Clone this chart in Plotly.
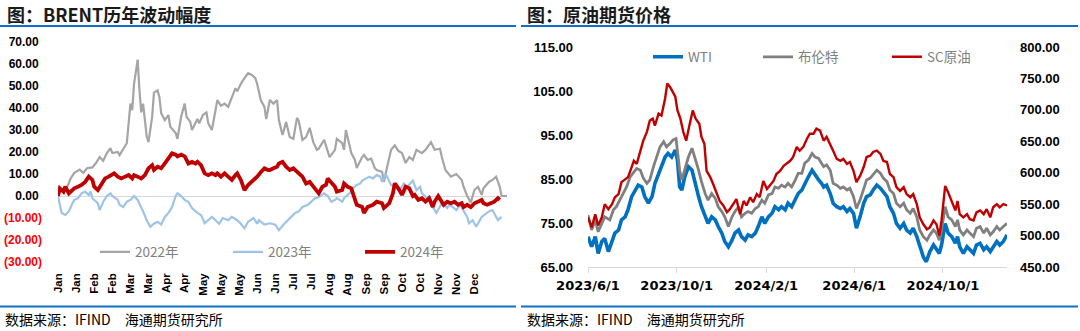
import pandas as pd
import plotly.graph_objects as go

W, H = 1080, 331

# ---------------- Left panel: Brent yearly change (trading-day index) ----------------
month_labels = ["Jan", "Jan", "Feb", "Feb", "Mar", "Mar", "Apr", "Apr", "May", "May", "May", "Jun",
                "Jun", "Jul", "Jul", "Aug", "Aug", "Sep", "Sep", "Oct", "Oct", "Nov", "Nov", "Dec"]
month_tick_days = list(range(0, 240, 10))

days_2022 = [4, 7, 9, 12, 14, 16, 19, 21, 23, 25, 27, 29, 30, 33, 34, 36, 38, 40, 41, 42,
             44, 45, 46, 47, 49, 50, 52, 53, 55, 56, 57, 59, 61, 62, 65, 66, 68, 70, 71, 73,
             74, 77, 78, 80, 82, 83, 85, 87, 88, 90, 92, 94, 96, 98, 99, 101, 103, 105, 107, 109,
             110, 112, 114, 115, 117, 119, 121, 122, 124, 126, 128, 130, 132, 133, 135, 137, 139, 141, 143, 144,
             147, 150, 153, 154, 157, 158, 159, 162, 164, 165, 168, 169, 171, 173, 175, 176, 179, 180, 182, 184,
             186, 188, 190, 192, 194, 196, 198, 201, 203, 206, 208, 211, 212, 214, 217, 220, 223, 224, 226, 228,
             230, 232, 234, 235, 238, 240, 242, 244, 245, 248]
chg_2022 = [2, 8, 10.5, 12, 10.5, 12.6, 13, 15, 17.7, 16, 19.5, 21.8, 19.5, 20, 18.6, 21, 24, 42, 39, 51,
            62, 48, 38, 42, 27, 24.5, 36, 47, 48, 45, 37.6, 34.5, 36.8, 31.5, 28.6, 26, 36, 42, 36, 33.8,
            30, 35, 33, 36.8, 38, 33, 30, 39, 43.6, 41, 42, 40.5, 45, 49, 47.6, 51, 53.6, 55.8, 55, 53.6,
            51, 43.6, 40.5, 35, 43.6, 42, 43.6, 34.5, 27.7, 33.6, 26.8, 26, 35.5, 34, 25.5, 26.8, 31, 24.5, 21, 21.5,
            25.5, 17.7, 21, 26, 24, 21, 30, 19.5, 16.4, 12.7, 17.7, 18.6, 16.4, 17, 12.7, 11.8, 11, 6.4, 14, 21,
            23, 20.5, 19.5, 15, 17.7, 16.4, 21, 19.5, 21, 24.5, 21, 21.5, 17.7, 11.8, 8.8, 10, 7.3, 4.2, 0, -3,
            2.7, 4.2, 0.5, 3.5, 6.4, 7.3, 8.8, 4.2, 0, 0]

days_2023 = [0, 2, 4, 6, 8, 9, 11, 13, 15, 17, 18, 19, 22, 23, 25, 27, 29, 30, 33, 34,
             36, 38, 40, 42, 44, 46, 47, 49, 51, 53, 55, 57, 59, 61, 63, 65, 66, 68, 70, 72,
             74, 77, 79, 81, 83, 85, 87, 89, 91, 94, 96, 99, 101, 103, 105, 108, 110, 111, 114, 117,
             120, 122, 125, 128, 131, 133, 135, 138, 140, 142, 143, 146, 147, 149, 151, 153, 154, 157, 158, 161,
             163, 165, 167, 168, 170, 172, 174, 176, 178, 179, 181, 183, 184, 186, 188, 190, 191, 193, 195, 196,
             198, 200, 201, 204, 205, 207, 209, 211, 212, 215, 216, 218, 220, 222, 223, 226, 227, 229, 231, 233,
             234, 237, 238, 240, 242, 243, 245]
chg_2023 = [0, -7.7, -8.6, -7, -3.3, -1.8, -1, 1.2, 2, 0.5, 2, -1, -3.3, -6.4, -2.6, 0, 1.2, 0, -1.8, -4,
            -5, -2.6, -1.8, 0, -1.8, -5, -7, -11, -14, -12.6, -11.7, -13, -9.5, -7.7, -5, 0, 1.2, 0, -1.8, -2.6,
            -5.5, -7.7, -8.6, -12.4, -11, -9.5, -11, -12.6, -10, -11, -9.5, -11, -12.6, -14.7, -11.7, -10, -12.6, -11, -13, -12.4,
            -13, -15.5, -12.6, -10, -7.7, -7, -5, -4, -2.6, -1, -1, 0.5, 1.2, 0, -2.6, -1.8, -1, -2.6, -1, 1.2,
            3.5, 5, 5.7, 7, 8, 8.8, 8, 9.5, 8.8, 6.4, 10, 6.4, 5, 4.2, 2.7, 4.2, 5.7, 4.2, 6.4, 7,
            2.7, 4.2, 1.2, -1, 0, -5, -7.7, -5, -3.3, -5.5, -4, -5, -6.4, -4, -5.5, -9.5, -12.4, -11, -14, -11,
            -9.5, -7.7, -7, -6.4, -9.5, -11, -9.5]

days_2024 = [0, 1, 3, 4, 6, 8, 9, 11, 13, 15, 17, 19, 20, 22, 24, 26, 28, 30, 31, 33,
             35, 37, 39, 41, 42, 44, 46, 48, 50, 52, 53, 55, 57, 59, 61, 63, 65, 66, 68, 70,
             72, 74, 76, 77, 79, 81, 83, 85, 87, 88, 90, 92, 94, 96, 98, 99, 101, 103, 105, 107,
             109, 110, 112, 114, 116, 117, 119, 121, 122, 124, 126, 128, 130, 132, 133, 135, 137, 139, 141, 143,
             144, 146, 148, 149, 151, 153, 154, 157, 158, 160, 162, 164, 165, 168, 169, 171, 174, 176, 179, 180,
             183, 185, 186, 188, 190, 192, 194, 196, 197, 199, 201, 203, 205, 207, 208, 210, 212, 213, 215, 217,
             219, 221, 223, 224, 226, 228, 230, 232, 234, 235, 237, 239, 241, 243, 244]
chg_2024 = [0, 3.5, 2, 4.2, 1.2, 2.7, 3.5, 4.2, 5, 6.4, 8.8, 7.3, 4.2, 2.7, 5.7, 8, 8.8, 9.5, 10.3, 8.8,
            8, 8.8, 9.5, 8, 9.5, 8.8, 8, 9.5, 12.6, 14, 11.8, 13.3, 12.6, 14.8, 17.1, 19.4, 18.8, 18, 18.8, 18,
            14.8, 15.5, 14.8, 15.5, 14, 10.3, 9.5, 10.3, 9.5, 10.3, 8.8, 10.3, 8.8, 7.3, 9.5, 10.3, 7.3, 2.7, 5, 6.4,
            8, 8.8, 10.8, 12.6, 11.8, 11.8, 12.6, 13.3, 14.8, 15.5, 13.3, 11.8, 12.6, 10.8, 10.3, 8.8, 5.7, 6.4, 4.2, 2,
            1.2, 4.2, 5, 8, 6.4, 4.2, 2, 2.7, 5.7, 4.2, 3.5, -1, -4, -5, -7.7, -5, -4, -2.6, -3.3, -5.5,
            -3.3, 1.2, 5.7, 3.5, 0.5, 4.2, 3.5, 0, 0.5, -1.8, -1, -2.6, -1, -5, -2.6, 0, -3.3, -4, -2.6, -3.3,
            -2.6, -4, -3.3, -5, -4, -5, -3.3, -2.6, -1.8, -3.3, -4, -3.3, -2.6, -1, -1.8]

left_ticks = [-30, -20, -10, 0, 10, 20, 30, 40, 50, 60, 70]

# ---------------- Right panel: crude futures (days after 2023-06-01) ----------------
price_start = "2023-06-01"
date_ticks = ["2023-06-01", "2023-10-01", "2024-02-01", "2024-06-01", "2024-10-01"]
date_tick_labels = ["2023/6/1", "2023/10/1", "2024/2/1", "2024/6/1", "2024/10/1"]

wti_days = [0, 5, 10, 14, 19, 23, 28, 33, 37, 42, 46, 51, 55, 60, 65, 69, 74, 78, 83, 88,
            92, 97, 101, 106, 110, 115, 120, 123, 126, 129, 133, 138, 143, 147, 152, 156, 161, 165, 170, 175,
            179, 184, 188, 193, 198, 202, 207, 211, 216, 220, 225, 230, 234, 239, 243, 248, 253, 257, 262, 266,
            271, 275, 280, 285, 289, 294, 298, 303, 308, 312, 317, 321, 324, 328, 333, 337, 342, 347, 351, 356,
            360, 365, 369, 374, 379, 383, 388, 392, 397, 402, 406, 411, 415, 420, 424, 429, 434, 438, 443, 447,
            452, 456, 461, 465, 470, 475, 479, 483, 486, 491, 495, 500, 505, 508, 511, 516, 521, 525, 530, 534,
            539, 544, 548, 553, 557, 562, 566, 571, 576]
wti = [71.9, 69.6, 71.9, 68.1, 70.8, 71.5, 68.5, 71.1, 72.7, 73.4, 75.7, 76.4, 78, 81, 82.5, 83.6, 83.2, 81, 79.5, 81,
       84, 86.3, 87.8, 90, 90.8, 90, 91.6, 89.3, 83.2, 82.5, 85.5, 87.8, 87, 84, 81, 78.7, 76.4, 74.9, 76.4, 75.7,
       74.2, 72.7, 70.8, 69.6, 71.1, 72.7, 73.4, 71.9, 71.1, 72.3, 71.9, 72.7, 74.2, 76.4, 74.9, 76.4, 77.2, 78.7, 78, 78.7,
       78, 79.5, 78.7, 80.2, 81.7, 82.5, 84, 85.5, 87, 85.9, 84.8, 84, 83.2, 83.6, 81.7, 79.5, 78.7, 78.3, 78.7, 77.6,
       78.3, 77.2, 73.8, 76.4, 79.5, 81, 81.4, 82.5, 83.6, 82.9, 82.1, 81, 78.7, 77.2, 74.9, 73.8, 74.9, 73.4, 72.7, 73.8,
       71.9, 69.6, 67.3, 66.2, 68.5, 70, 68.9, 68.1, 70, 74.9, 72.7, 71.9, 70.4, 71.9, 69.6, 68.1, 69.6, 68.9, 68.1, 70,
       70.4, 68.9, 69.6, 68.5, 69.6, 70.8, 70, 70.8, 72.3]

brent_days = [0, 5, 10, 14, 19, 23, 30, 35, 39, 46, 53, 58, 62, 67, 72, 76, 81, 85, 90, 94,
              99, 104, 108, 113, 117, 121, 126, 129, 133, 138, 143, 147, 152, 156, 161, 165, 170, 175, 179, 184,
              188, 193, 198, 202, 207, 211, 216, 220, 225, 230, 234, 239, 243, 248, 253, 257, 262, 266, 271, 275,
              280, 285, 289, 294, 298, 303, 308, 312, 317, 321, 324, 328, 333, 337, 342, 347, 351, 356, 360, 365,
              369, 374, 379, 383, 388, 392, 397, 402, 406, 411, 415, 420, 424, 429, 434, 438, 443, 447, 452, 456,
              461, 466, 470, 475, 479, 483, 486, 491, 495, 500, 505, 508, 511, 516, 521, 525, 530, 534, 539, 544,
              548, 553, 557, 562, 566, 571, 576]
brent = [76.8, 73.4, 75.7, 73, 74.9, 76.4, 75.7, 78, 78.7, 81, 83.2, 85.5, 86.3, 87.4, 87, 85.2, 84, 84.8, 87.8, 90,
         92.3, 93.5, 92.3, 93.1, 93.9, 94.2, 87, 84.8, 87, 90, 92, 90, 87, 84.4, 81.7, 80.2, 81.7, 80.6, 78.7, 77.6,
         76.4, 74.2, 76.4, 77.6, 78.7, 76.4, 77.2, 77.6, 77.2, 78.3, 78.7, 80.2, 79.5, 81.4, 81.7, 83.2, 82.9, 83.6, 83.2, 84,
         83.2, 84.8, 86.3, 86.3, 88.6, 89.3, 90.8, 90, 89.7, 88.6, 87.8, 88.2, 87, 84, 83.6, 82.9, 83.2, 82.5, 82.9, 81,
         78.3, 80.2, 82.5, 84.8, 85.2, 85.9, 87, 86.3, 85.2, 84.4, 82.5, 81.7, 79.5, 78.7, 79.5, 78, 77.2, 78.3, 76.4, 73.4,
         71.9, 71.1, 72.3, 73.4, 72.7, 71.1, 73.4, 78.7, 76.4, 75.7, 74.2, 75.7, 73.4, 72.3, 73.4, 72.7, 71.9, 73.8, 74.2, 72.7,
         73.8, 72.3, 73, 74.2, 73.4, 74.2, 74.9]

sc_days = [0, 5, 10, 14, 19, 23, 28, 33, 37, 42, 46, 51, 55, 60, 63, 67, 72, 76, 81, 85,
           89, 92, 97, 101, 106, 109, 113, 116, 120, 123, 127, 131, 135, 139, 144, 148, 153, 156, 160, 163,
           168, 172, 177, 181, 186, 191, 195, 200, 204, 209, 214, 218, 223, 227, 232, 236, 241, 246, 250, 255,
           259, 264, 269, 273, 278, 282, 287, 291, 296, 301, 305, 310, 314, 319, 324, 328, 333, 337, 342, 347,
           351, 356, 360, 365, 369, 374, 379, 383, 388, 392, 397, 402, 406, 411, 415, 420, 424, 429, 434, 438,
           443, 447, 452, 456, 461, 466, 470, 475, 479, 483, 486, 491, 495, 500, 505, 508, 511, 516, 521, 525,
           530, 534, 539, 544, 548, 553, 557, 562, 566, 571, 576]
sc = [529, 513, 534, 516, 529, 550, 542, 550, 561, 566, 585, 590, 593, 609, 619, 614, 635, 651, 665, 683,
      686, 675, 694, 691, 718, 742, 736, 729, 721, 699, 686, 665, 651, 673, 699, 686, 678, 657, 646, 603,
      593, 582, 566, 555, 548, 537, 542, 550, 558, 534, 555, 548, 561, 553, 566, 561, 587, 574, 579, 587,
      598, 603, 611, 614, 619, 625, 641, 635, 641, 654, 662, 662, 670, 667, 651, 657, 646, 635, 622, 619,
      622, 614, 617, 603, 585, 595, 609, 625, 627, 633, 635, 630, 619, 617, 598, 593, 577, 571, 577, 566,
      561, 566, 550, 529, 518, 510, 513, 524, 518, 500, 524, 579, 569, 555, 540, 555, 534, 529, 534, 526,
      524, 537, 540, 534, 542, 529, 545, 550, 545, 550, 548]

usd_ticks = [65, 75, 85, 95, 105, 115]
cny_ticks = [450, 500, 550, 600, 650, 700, 750, 800]


def to_dates(days):
    return pd.Timestamp(price_start) + pd.to_timedelta(days, unit="D")


def px_x(v):
    return v / W


def px_y(v):
    return 1 - v / H


LABEL_FONT = "Liberation Sans"
CJK_FONT = "Noto Sans CJK SC"

fig = go.Figure()

# left panel lines
fig.add_trace(go.Scatter(x=days_2022, y=chg_2022, name="2022年", mode="lines",
                         line=dict(color="#A5A5A5", width=2.2), xaxis="x", yaxis="y", legend="legend"))
fig.add_trace(go.Scatter(x=days_2023, y=chg_2023, name="2023年", mode="lines",
                         line=dict(color="#9DC3E6", width=2.2), xaxis="x", yaxis="y", legend="legend2"))
fig.add_trace(go.Scatter(x=days_2024, y=chg_2024, name="2024年", mode="lines",
                         line=dict(color="#C00000", width=3.8), xaxis="x", yaxis="y", legend="legend3"))

# right panel lines
fig.add_trace(go.Scatter(x=to_dates(wti_days), y=wti, name="WTI", mode="lines",
                         line=dict(color="#0070C0", width=3.6), xaxis="x2", yaxis="y2", legend="legend4"))
fig.add_trace(go.Scatter(x=to_dates(brent_days), y=brent, name="布伦特", mode="lines",
                         line=dict(color="#808080", width=2.8), xaxis="x2", yaxis="y2", legend="legend5"))
fig.add_trace(go.Scatter(x=to_dates(sc_days), y=sc, name="SC原油", mode="lines",
                         line=dict(color="#C00000", width=2.4), xaxis="x2", yaxis="y3", legend="legend6"))


def left_tick_text(v):
    if v < 0:
        return "<span style='color:#FF0000'>(%.2f)</span>" % abs(v)
    return "%.2f\u00a0" % v


legend_font = dict(family=CJK_FONT, size=13.5, color="#7F7F7F")


def legend_at(x_px, y_px):
    return dict(x=px_x(x_px), y=px_y(y_px), xanchor="left", yanchor="middle", orientation="h",
                bgcolor="rgba(0,0,0,0)", borderwidth=0, font=legend_font)


fig.update_layout(
    template="none",
    width=W, height=H,
    margin=dict(l=0, r=0, t=0, b=0, autoexpand=False),
    paper_bgcolor="white", plot_bgcolor="white",
    showlegend=True,
    hovermode=False,
    xaxis=dict(domain=[px_x(58), px_x(507)], range=[0, 248], anchor="y", automargin=False,
               tickmode="array", tickvals=month_tick_days, ticktext=month_labels, tickangle=-90,
               tickfont=dict(family=LABEL_FONT, size=11.5, color="#000000", weight="bold"),
               showgrid=False, zeroline=False, showline=False, ticks="", ticklabelstandoff=8),
    yaxis=dict(domain=[px_y(262), px_y(42)], range=[-30, 70], anchor="x", automargin=False,
               tickmode="array", tickvals=left_ticks, ticktext=[left_tick_text(v) for v in left_ticks],
               tickfont=dict(family=LABEL_FONT, size=12, color="#000000", weight="bold"),
               showgrid=False, zeroline=True, zerolinecolor="#D9D9D9", zerolinewidth=1,
               showline=False, ticks="", ticklabelstandoff=15),
    xaxis2=dict(domain=[px_x(588), px_x(1007)], anchor="y2", type="date", automargin=False,
                range=[to_dates([0])[0], to_dates([576])[0]],
                tickmode="array", tickvals=date_ticks, ticktext=date_tick_labels,
                tickfont=dict(family="DejaVu Sans", size=13, color="#000000", weight="bold"),
                showgrid=False, zeroline=False, showline=True, linecolor="#D9D9D9", linewidth=1,
                ticks="outside", ticklen=5, tickcolor="#D9D9D9", ticklabelstandoff=1),
    yaxis2=dict(domain=[px_y(267), px_y(47)], range=[65, 115], anchor="x2", automargin=False,
                tickmode="array", tickvals=usd_ticks, tickformat=".2f",
                tickfont=dict(family=LABEL_FONT, size=13, color="#000000", weight="bold"),
                showgrid=False, zeroline=False, showline=False, ticks="", ticklabelstandoff=14),
    yaxis3=dict(overlaying="y2", side="right", range=[450, 800], anchor="x2", automargin=False,
                tickmode="array", tickvals=cny_ticks, tickformat=".2f",
                tickfont=dict(family=LABEL_FONT, size=13, color="#000000", weight="bold"),
                showgrid=False, zeroline=False, showline=False, ticks="", ticklabelstandoff=12),
    legend=legend_at(95, 252),
    legend2=legend_at(228, 252),
    legend3=legend_at(360, 252),
    legend4=legend_at(648, 57),
    legend5=legend_at(758, 57),
    legend6=legend_at(887, 57),
)

# panel titles and source notes
title_font = dict(family=CJK_FONT, size=18, color="#1A1A1A", weight="bold")
note_font = dict(family=CJK_FONT, size=14, color="#000000")
texts = [
    ("图：BRENT历年波动幅度", 5, 14, title_font),
    ("图：原油期货价格", 525, 14, title_font),
    ("数据来源：IFIND　海通期货研究所", 3, 319, note_font),
    ("数据来源：IFIND　海通期货研究所", 525, 319, note_font),
]
for txt, x0, y0, f in texts:
    fig.add_annotation(text=txt, xref="paper", yref="paper", x=px_x(x0), y=px_y(y0),
                       xanchor="left", yanchor="middle", showarrow=False, font=f)

# blue separator rules above and below each panel
rule_color = "#0F6FC6"
for x0, x1 in [(0, 516), (521, 1078)]:
    for yy in (26, 306.5):
        fig.add_shape(type="line", xref="paper", yref="paper",
                      x0=px_x(x0), x1=px_x(x1), y0=px_y(yy), y1=px_y(yy),
                      line=dict(color=rule_color, width=2))

fig.write_html("out.html", config={"displayModeBar": False})
